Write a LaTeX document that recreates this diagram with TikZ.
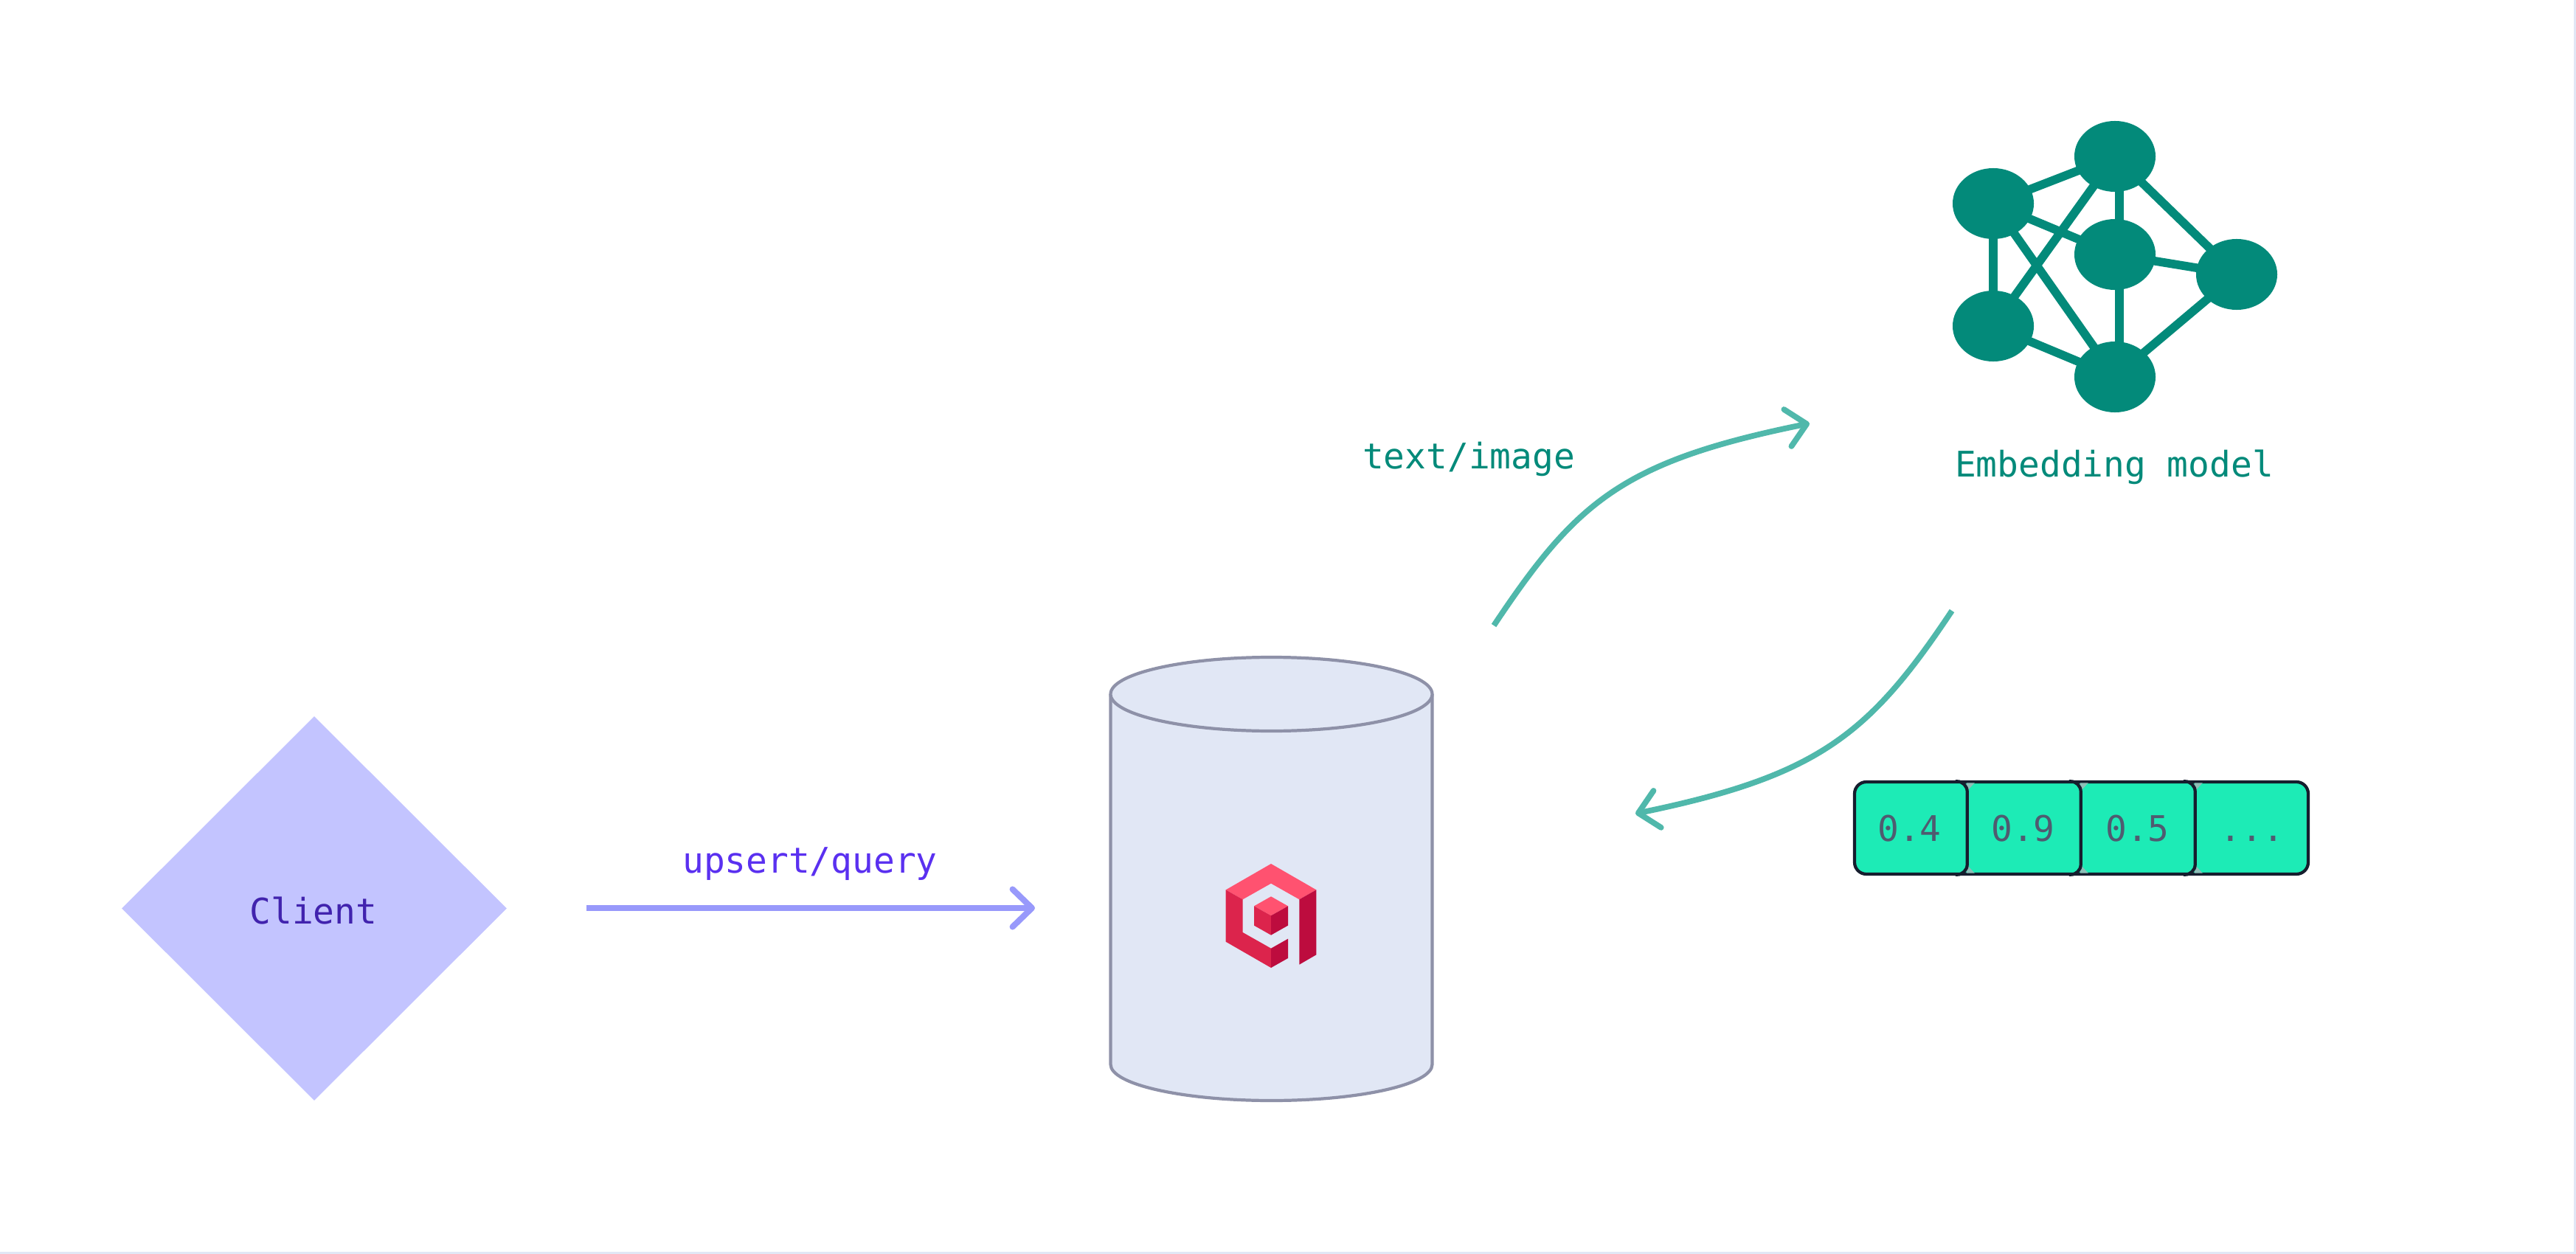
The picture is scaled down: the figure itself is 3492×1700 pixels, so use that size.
\documentclass[tikz,border=0pt]{standalone}
\usepackage{fontspec}
\setmonofont{DejaVu Sans Mono}
\usetikzlibrary{arrows.meta,shapes.geometric,positioning}
\definecolor{clientfill}{HTML}{C3C4FF}
\definecolor{clienttext}{HTML}{4123AE}
\definecolor{upsertline}{HTML}{9899FB}
\definecolor{upserttext}{HTML}{5A30F0}
\definecolor{dbfill}{HTML}{E1E7F5}
\definecolor{dbline}{HTML}{8E91A8}
\definecolor{modelgreen}{HTML}{038A7A}
\definecolor{curveline}{HTML}{50B8AB}
\definecolor{vecfill}{HTML}{1DEBB6}
\definecolor{vecline}{HTML}{161E2E}
\definecolor{vectext}{HTML}{4F5B70}
\definecolor{vecnotch}{HTML}{8DBFB8}
\definecolor{logolight}{HTML}{FF5270}
\definecolor{logomid}{HTML}{DC244C}
\definecolor{logodark}{HTML}{BD0C3E}
\definecolor{edgeline}{HTML}{E1E7F5}

\begin{document}
\begin{tikzpicture}[
    x=0.01cm, y=-0.01cm,
    label/.style={font=\ttfamily\fontsize{13.6}{16}\selectfont, anchor=base, inner sep=0pt},
    neuron/.style={ellipse, fill=modelgreen, minimum width=1.1cm, minimum height=0.96cm, inner sep=0pt},
    syn/.style={draw=modelgreen, line width=3.3pt},
    arrow/.style={-{Straight Barb[length=7.5pt, width=14.5pt, round]}, line width=2.2pt},
    cell/.style={minimum width=1.55cm, minimum height=1.25cm, inner sep=0pt, text height=0.35cm, text depth=0cm, text=vectext, font=\ttfamily\fontsize{13.6}{16}\selectfont}
]
\useasboundingbox (0,0) rectangle (3492,1700);
\draw[edgeline, line width=1pt] (3491,0) -- (3491,1699) -- (0,1699);

% Client (left side)
\node[diamond, fill=clientfill, minimum width=5.22cm, minimum height=5.21cm, inner sep=0pt, aspect=1] (client) at (426,1231.5) {};
\node[label, text=clienttext] (clientname) at (425,1252) {Client};

\coordinate (upstart) at (795,1231);
\coordinate (upend) at (1403,1231);
\draw[arrow, upsertline, line width=2.3pt] (upstart) -- (upend);
\node[label, text=upserttext] (upname) at (1098,1183) {upsert/query};

% Database
\draw[dbline, fill=dbfill, line width=1.2pt] (1505.5,941) -- (1505.5,1443) arc[start angle=180, end angle=0, x radius=218, y radius=49] -- (1941.5,941);
\draw[dbline, fill=dbfill, line width=1.2pt] (1723.5,941) ellipse [x radius=218, y radius=50];

% Logo
\begin{scope}[shift={(1560,1120)}, scale=1/3]
\fill[logolight] (305,259) -- (489,153) -- (673,259) -- (604,298) -- (489,233) -- (374,298) -- cycle;
\fill[logomid] (305,259) -- (374,298) -- (374,432) -- (489,497) -- (489,576) -- (305,470) -- cycle;
\fill[logodark] (489,497) -- (558,458) -- (558,537) -- (489,576) -- cycle;
\fill[logodark] (604,298) -- (673,259) -- (673,523) -- (604,563) -- cycle;
\fill[logolight] (420,325) -- (489,286) -- (558,325) -- (489,364) -- cycle;
\fill[logomid] (420,325) -- (489,364) -- (489,443) -- (420,404) -- cycle;
\fill[logodark] (558,325) -- (489,364) -- (489,443) -- (558,404) -- cycle;
\end{scope}

% Embedding model (right side)
\node[neuron] (ntop) at (2867,212) {};
\node[neuron] (nlu) at (2702,276) {};
\node[neuron] (nmid) at (2867,345) {};
\node[neuron] (nll) at (2702,442) {};
\node[neuron] (nbot) at (2867,511) {};
\node[neuron] (nright) at (3032,372) {};

\foreach \a/\b in {nlu/ntop, nlu/nmid, nlu/nbot, nlu/nll, nll/ntop, nll/nbot, ntop/nright, nmid/nright, nbot/nright}
    \draw[syn] (\a.center) -- (\b.center);
\draw[syn] ([xshift=0.06cm]ntop.center) -- ([xshift=0.06cm]nbot.center);

\node[label, text=modelgreen] (modelname) at (2866,646) {Embedding model};
\node[label, text=modelgreen] (textname) at (1991,635) {text/image};

% Curved arrows
\coordinate (outstart) at (2025,848);
\coordinate (outend) at (2453,574);
\draw[arrow, curveline] (outstart) .. controls (2137,680) and (2199,625.5) .. (outend);
\coordinate (backstart) at (2646,828);
\coordinate (backend) at (2217,1103);
\draw[arrow, curveline] (backstart) .. controls (2534,996) and (2465,1052) .. (backend);

% Vector
\draw[vecline, fill=vecfill, line width=1.2pt, rounded corners=0.16cm] (2514,1060) rectangle (3129,1185);
\node[cell] (v1) at (2588.5,1122.5) {0.4};
\node[cell] (v2) at (2742.5,1122.5) {0.9};
\node[cell] (v3) at (2897.5,1122.5) {0.5};
\node[cell] (v4) at (3053,1122.5) {...};
\foreach \c in {v1,v2,v3} {
    \fill[vecnotch] (\c.north east) ++(-1,2) -- ++(11,0) -- ++(-10,11) -- cycle;
    \fill[vecnotch] (\c.south east) ++(-1,-2) -- ++(11,0) -- ++(-10,-11) -- cycle;
    \draw[vecline, line width=1.2pt, rounded corners=0.14cm] (\c.north east) ++(-16,0) -- ++(16,0) -- (\c.south east) -- ++(-16,0);
}
\end{tikzpicture}
\end{document}
